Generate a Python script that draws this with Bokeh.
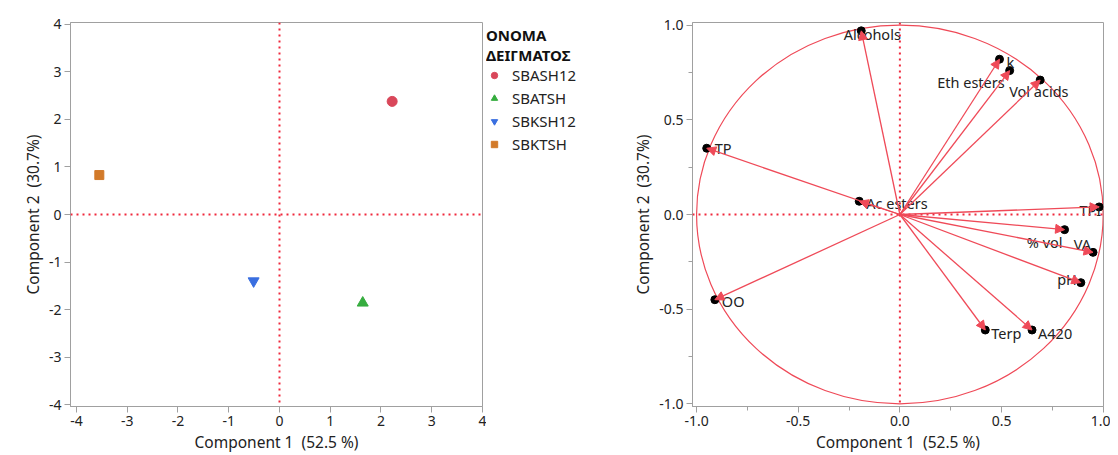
import numpy as np
from bokeh.plotting import figure
from bokeh.models import (ColumnDataSource, Span, Legend, LegendItem, Arrow,
                          NormalHead, FixedTicker, Range1d)
from bokeh.layouts import row
from bokeh.embed import file_html
from bokeh.resources import INLINE
from bokeh.core.properties import value

# ---------------- data ----------------
samples = ["SBASH12", "SBATSH", "SBKSH12", "SBKTSH"]
score_pc1 = [2.22, 1.64, -0.51, -3.55]
score_pc2 = [2.38, -1.86, -1.40, 0.83]

variables = ["Alcohols", "k", "Eth esters", "Vol acids", "TP", "Ac esters", "TPI",
             "% vol", "VA", "pH", "OO", "Terp", "A420"]
load_pc1 = [-0.19, 0.49, 0.54, 0.69, -0.95, -0.20, 0.98, 0.81, 0.95, 0.89, -0.91, 0.42, 0.65]
load_pc2 = [0.97, 0.82, 0.76, 0.71, 0.35, 0.07, 0.04, -0.08, -0.20, -0.36, -0.45, -0.61, -0.61]

score_ticks = [-4, -3, -2, -1, 0, 1, 2, 3, 4]
loading_ticks = [-1.0, -0.5, 0.0, 0.5, 1.0]

legend_title = "ΟΝΟΜΑ\nΔΕΙΓΜΑΤΟΣ"
x_title = "Component 1\u00a0\u00a0(52.5 %)"
y_title = "Component 2\u00a0\u00a0(30.7%)"

# ---------------- styles ----------------
FONT = "Noto Sans"
TXT = "#222222"
GRAY = "#a0a0a0"
DOT_RED = "#f0283c"
VEC_RED = "#ef4a58"
H = 455

marker_style = {
    "SBASH12": ("circle", "#d9475a", 10),
    "SBATSH": ("triangle", "#36ad3f", 11),
    "SBKSH12": ("inverted_triangle", "#3a6fe0", 11),
    "SBKTSH": ("square", "#d27a2a", 9),
}

label_style = {  # align, x_offset, y_offset (screen px)
    "Alcohols": ("center", 11, 3),
    "k": ("left", 7, 3),
    "Eth esters": ("right", -5, 11),
    "Vol acids": ("left", -31, 11),
    "TP": ("left", 8, 0),
    "Ac esters": ("left", 7, 2),
    "TPI": ("right", 2, 3),
    "% vol": ("right", -2, 12),
    "VA": ("right", -2, -8),
    "pH": ("right", -4, -4),
    "OO": ("left", 7, 1),
    "Terp": ("left", 6, 3),
    "A420": ("left", 6, 3),
}


def style_axes(p, ticks, minor, fmt):
    for ax in (p.xaxis[0], p.yaxis[0]):
        ax.ticker = FixedTicker(ticks=ticks, minor_ticks=minor)
        ax.major_label_overrides = {t: fmt.format(t) for t in ticks}
        ax.axis_line_color = GRAY
        ax.major_tick_line_color = GRAY
        ax.minor_tick_line_color = GRAY
        ax.major_tick_in = 0
        ax.major_tick_out = 6
        ax.minor_tick_in = 0
        ax.minor_tick_out = 4 if minor else 0
        ax.major_label_text_font = FONT
        ax.major_label_text_font_size = "14px"
        ax.major_label_text_color = TXT
        ax.major_label_standoff = 3
        ax.axis_label_text_font = FONT
        ax.axis_label_text_font_size = "15.5px"
        ax.axis_label_text_font_style = "normal"
        ax.axis_label_text_color = TXT
        ax.axis_label_standoff = 2
    p.xgrid.visible = False
    p.ygrid.visible = False
    p.outline_line_color = GRAY
    p.outline_line_width = 1
    p.background_fill_color = "white"
    p.border_fill_color = "white"


def crosshair(p):
    p.add_layout(Span(location=0, dimension="height", line_color=DOT_RED,
                      line_width=2, line_dash="2 4"))
    p.add_layout(Span(location=0, dimension="width", line_color=DOT_RED,
                      line_width=2, line_dash="2 4"))


# ---------------- left: score plot ----------------
p1 = figure(width=486, height=H,
            x_range=Range1d(-4.118, 4.0), y_range=Range1d(-4.04, 4.04),
            output_backend="svg", toolbar_location=None,
            min_border_left=70, min_border_right=4, min_border_top=22,
            min_border_bottom=48)
p1.xaxis.axis_label = x_title
p1.yaxis.axis_label = y_title
style_axes(p1, score_ticks, [], "{:d}")
crosshair(p1)

# legend panel (separate plot placed right of the score plot)
pl = figure(width=122, height=H, x_range=Range1d(0, 1), y_range=Range1d(0, 1),
            x_axis_type=None, y_axis_type=None, output_backend="svg",
            toolbar_location=None, min_border_left=0, min_border_right=0,
            min_border_top=22, min_border_bottom=48, outline_line_color=None)
pl.xgrid.visible = False
pl.ygrid.visible = False

items = []
for name, sx, sy in zip(samples, score_pc1, score_pc2):
    mk, col, sz = marker_style[name]
    src = ColumnDataSource(dict(x=[sx], y=[sy]))
    p1.scatter("x", "y", source=src, marker=mk, size=sz,
               fill_color=col, line_color=col)
    r = pl.scatter("x", "y", source=src, marker=mk, size=sz,
                   fill_color=col, line_color=col, visible=False)
    items.append(LegendItem(label=name, renderers=[r]))

legend = Legend(items=items, title=legend_title, location=(0, 252),
                border_line_color=None, background_fill_alpha=0,
                inactive_fill_alpha=0,
                label_text_font=FONT, label_text_font_size="15px",
                label_text_color=TXT, title_text_font=FONT,
                title_text_font_size="15px", title_text_font_style="bold",
                title_text_color="#111111", glyph_width=16, glyph_height=18,
                label_standoff=10, spacing=3, margin=0, padding=0,
                title_standoff=0)
pl.add_layout(legend, "center")

# ---------------- right: loading plot ----------------
p2 = figure(width=502, height=H,
            x_range=Range1d(-1.02, 1.0015), y_range=Range1d(-1.014, 1.014),
            output_backend="svg", toolbar_location=None,
            min_border_left=84, min_border_right=7, min_border_top=22,
            min_border_bottom=48)
p2.xaxis.axis_label = x_title
p2.yaxis.axis_label = y_title
style_axes(p2, loading_ticks, [-0.75, -0.25, 0.25, 0.75], "{:.1f}")
crosshair(p2)

p2.ellipse(x=0, y=0, width=2, height=2, fill_color=None,
           line_color=VEC_RED, line_width=1.2)

zeros = [0.0] * len(variables)
vsrc = ColumnDataSource(dict(x0=zeros, y0=zeros, x=load_pc1, y=load_pc2,
                             name=variables,
                             align=[label_style[v][0] for v in variables],
                             xo=[label_style[v][1] for v in variables],
                             yo=[label_style[v][2] for v in variables]))
p2.scatter("x", "y", source=vsrc, size=8, fill_color="black", line_color="black")
p2.add_layout(Arrow(end=NormalHead(size=9, fill_color=VEC_RED, line_color=VEC_RED),
                    x_start="x0", y_start="y0", x_end="x", y_end="y",
                    source=vsrc, line_color=VEC_RED, line_width=1.3))
p2.text("x", "y", text="name", source=vsrc, text_align="align",
        x_offset="xo", y_offset="yo", text_baseline="middle",
        text_font=value(FONT), text_font_size="14.5px", text_color=TXT)

layout = row(p1, pl, p2)
open("out.html", "w").write(file_html(layout, INLINE))
